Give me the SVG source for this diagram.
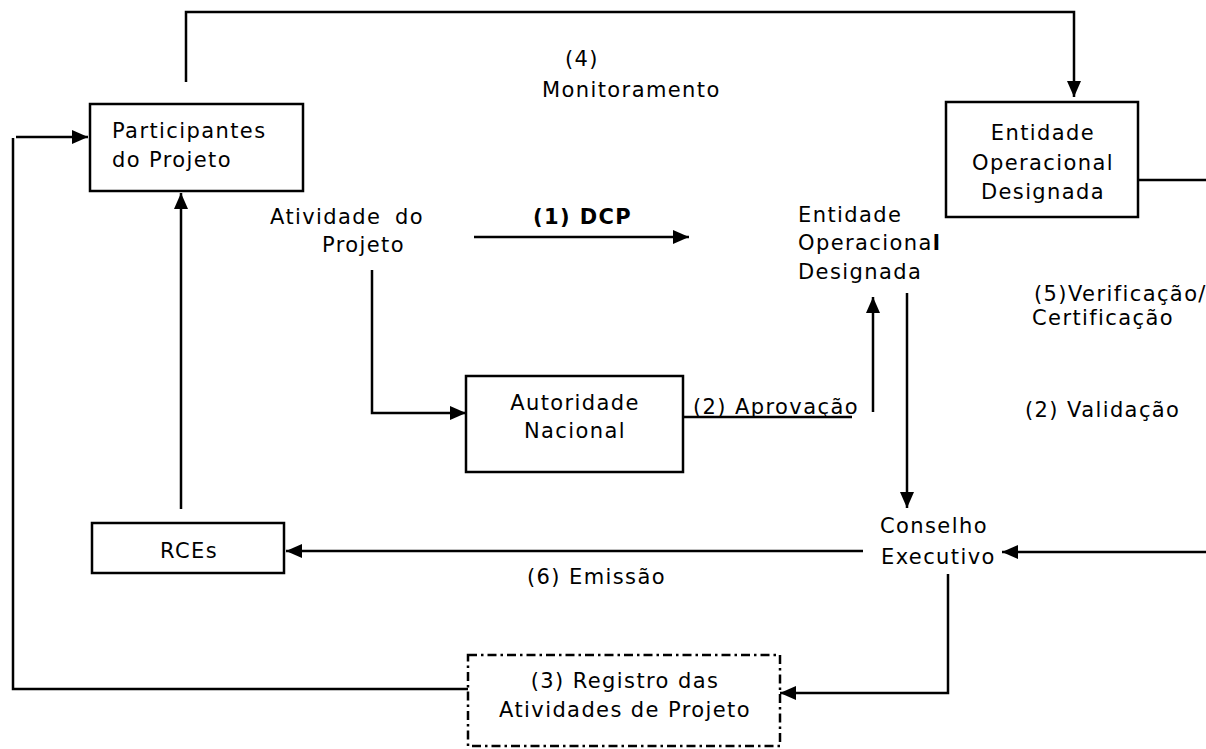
<svg xmlns="http://www.w3.org/2000/svg" width="1206" height="749" viewBox="0 0 1206 749">
<style>
text{font-family:"DejaVu Sans","Liberation Sans",sans-serif;font-size:21px;letter-spacing:1.4px;fill:#000}
.b{font-weight:bold}
.box{fill:#fff;stroke:#000;stroke-width:2.5}
.dash{fill:#fff;stroke:#000;stroke-width:2.5;stroke-dasharray:9 4 2.5 4}
.ln{fill:none;stroke:#000;stroke-width:2.5}
.c{text-anchor:middle}
</style>
<defs>
<marker id="ah" viewBox="0 0 16 14" refX="16" refY="7" markerWidth="16" markerHeight="14" markerUnits="userSpaceOnUse" orient="auto">
<path d="M0,0 L16,7 L0,14 Z" fill="#000"/>
</marker>
</defs>
<g id="connectors">
<path class="ln" d="M186,82 V12 H1074 V97" marker-end="url(#ah)"/>
<path class="ln" d="M13,138 V689 H468"/>
<path class="ln" d="M16,137 H88" marker-end="url(#ah)"/>
<path class="ln" d="M181,509 V193" marker-end="url(#ah)"/>
<path class="ln" d="M474,237 H689" marker-end="url(#ah)"/>
<path class="ln" d="M372,270 V413 H466" marker-end="url(#ah)"/>
<path class="ln" d="M683,417 H852"/>
<path class="ln" d="M873,412 V297" marker-end="url(#ah)"/>
<path class="ln" d="M907,293 V508" marker-end="url(#ah)"/>
<path class="ln" d="M863,551 H286" marker-end="url(#ah)"/>
<path class="ln" d="M1206,552 H1002" marker-end="url(#ah)"/>
<path class="ln" d="M1138,180 H1206"/>
<path class="ln" d="M948,574 V693 H780" marker-end="url(#ah)"/>
</g>
<g id="participantes">
<rect class="box" x="90" y="104" width="213" height="87"/>
<text x="112" y="138">Participantes</text>
<text x="112" y="167">do Projeto</text>
</g>
<g id="entidade-box">
<rect class="box" x="946" y="102" width="192" height="115"/>
<text class="c" x="1043" y="140">Entidade</text>
<text class="c" x="1043" y="170">Operacional</text>
<text class="c" x="1043" y="199">Designada</text>
</g>
<g id="atividade">
<text x="270" y="224">Atividade <tspan x="395">do</tspan></text>
<text x="322" y="252">Projeto</text>
</g>
<g id="entidade-mid">
<text x="798" y="222">Entidade</text>
<text x="798" y="250">Operaciona<tspan class="b">l</tspan></text>
<text x="798" y="279">Designada</text>
</g>
<g id="autoridade">
<rect class="box" x="466" y="376" width="217" height="96"/>
<text class="c" x="575" y="410">Autoridade</text>
<text class="c" x="575" y="438">Nacional</text>
</g>
<g id="conselho">
<text x="880" y="533">Conselho</text>
<text x="881" y="564">Executivo</text>
</g>
<g id="rces">
<rect class="box" x="92" y="523" width="192" height="50"/>
<text class="c" x="189" y="558">RCEs</text>
</g>
<g id="registro">
<rect class="dash" x="468" y="655" width="312" height="91"/>
<text class="c" x="625" y="688">(3) Registro das</text>
<text class="c" x="625" y="717">Atividades de Projeto</text>
</g>
<g id="labels">
<text x="565" y="66">(4)</text>
<text x="542" y="97">Monitoramento</text>
<text class="b" x="533" y="224">(1) DCP</text>
<text x="693" y="414">(2) Aprovação</text>
<text x="1034" y="301">(5)Verificação/</text>
<text x="1032" y="325">Certificação</text>
<text x="1025" y="417">(2) Validação</text>
<text x="527" y="584">(6) Emissão</text>
</g>
</svg>
